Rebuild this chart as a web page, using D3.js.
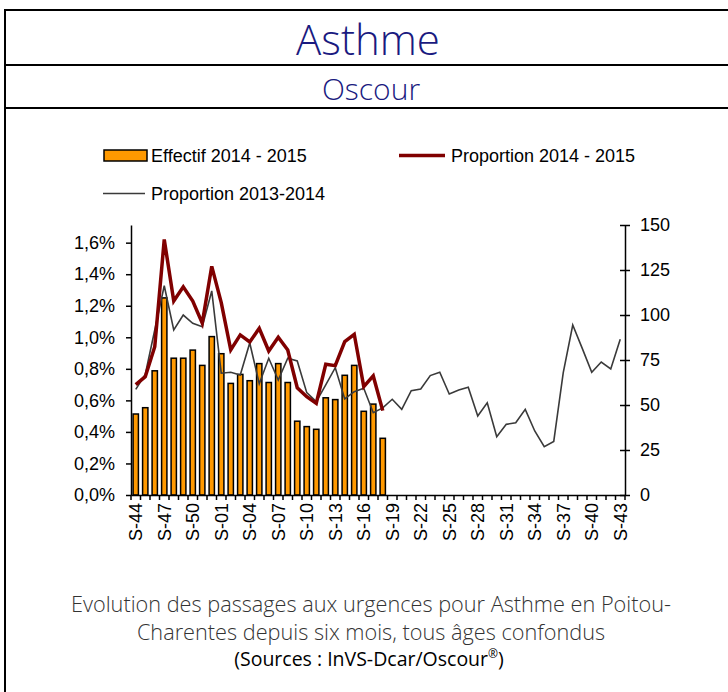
<!DOCTYPE html>
<html lang="fr">
<head>
    <meta charset="UTF-8">
    <title>Asthme - Oscour</title>
    <script src="https://cdnjs.cloudflare.com/ajax/libs/d3/7.8.5/d3.min.js"></script>
    <style>
        body {
            margin: 0;
            background-color: white;
        }

        .title {
            font-family: "Open Sans", sans-serif;
            font-weight: 300;
            fill: #1a1a80;
        }

        .caption {
            font-family: "Open Sans", sans-serif;
            font-weight: 300;
            fill: #333;
        }

        .chart-text {
            font-family: "Liberation Sans", Arial, sans-serif;
            font-size: 18px;
            fill: #000;
        }

        .axis path, .axis line {
            stroke: #000;
            stroke-width: 1.5;
        }
    </style>
</head>
<body>
<div id="chart"></div>
<script>
    const weeks = ['S-44', 'S-45', 'S-46', 'S-47', 'S-48', 'S-49', 'S-50', 'S-51', 'S-52',
        'S-01', 'S-02', 'S-03', 'S-04', 'S-05', 'S-06', 'S-07', 'S-08', 'S-09', 'S-10',
        'S-11', 'S-12', 'S-13', 'S-14', 'S-15', 'S-16', 'S-17', 'S-18', 'S-19', 'S-20',
        'S-21', 'S-22', 'S-23', 'S-24', 'S-25', 'S-26', 'S-27', 'S-28', 'S-29', 'S-30',
        'S-31', 'S-32', 'S-33', 'S-34', 'S-35', 'S-36', 'S-37', 'S-38', 'S-39', 'S-40',
        'S-41', 'S-42', 'S-43'];

    // nombre de passages 2014-2015 (axe droit)
    const effectif1415 = [45, 48.5, 69, 109.5, 76, 76, 80.5, 72, 88, 78.5, 62, 67, 63.5,
        73, 62.5, 73, 62.5, 41, 38, 36.5, 54, 53, 66.5, 72, 46.5, 50.5, 31.5];

    // proportions en % (axe gauche)
    const prop1415 = [0.70, 0.75, 0.94, 1.62, 1.23, 1.32, 1.23, 1.09, 1.45, 1.22, 0.92,
        1.015, 0.97, 1.057, 0.913, 1.0, 0.919, 0.68, 0.623, 0.581, 0.829, 0.82, 0.972,
        1.019, 0.687, 0.755, 0.535];

    const prop1314 = [0.67, 0.765, 1.046, 1.327, 1.046, 1.141, 1.089, 1.067, 1.294, 0.772,
        0.778, 0.761, 0.964, 0.706, 0.867, 0.729, 0.867, 0.85, 0.649, 0.592, 0.698, 0.807,
        0.609, 0.655, 0.677, 0.522, 0.552, 0.607, 0.543, 0.661, 0.672, 0.757, 0.778, 0.64,
        0.666, 0.683, 0.501, 0.585, 0.37, 0.448, 0.458, 0.543, 0.406, 0.306, 0.34, 0.776,
        1.078, 0.93, 0.778, 0.843, 0.799, 0.987];

    const leftTicks = [0, 0.2, 0.4, 0.6, 0.8, 1.0, 1.2, 1.4, 1.6];
    const rightTicks = [0, 25, 50, 75, 100, 125, 150];

    const width = 728;
    const height = 692;
    const plot = {left: 131, right: 625, top: 225, bottom: 495};

    const svg = d3.select('#chart')
        .append('svg')
        .attr('width', width)
        .attr('height', height);

    // cadre
    svg.append('rect')
        .attr('x', 5).attr('y', 10)
        .attr('width', width + 10).attr('height', height + 10)
        .attr('fill', 'none').attr('stroke', '#000').attr('stroke-width', 2);
    svg.append('line').attr('x1', 5).attr('x2', width).attr('y1', 65).attr('y2', 65)
        .attr('stroke', '#000').attr('stroke-width', 2);
    svg.append('line').attr('x1', 5).attr('x2', width).attr('y1', 108).attr('y2', 108)
        .attr('stroke', '#000').attr('stroke-width', 2);

    svg.append('text').attr('class', 'title')
        .attr('x', 368).attr('y', 55)
        .attr('text-anchor', 'middle')
        .style('font-size', '42px')
        .text('Asthme');
    svg.append('text').attr('class', 'title')
        .attr('x', 371).attr('y', 100)
        .attr('text-anchor', 'middle')
        .style('font-size', '30px')
        .text('Oscour');

    const x = d3.scaleBand()
        .domain(weeks)
        .range([plot.left, plot.right]);

    const yLeft = d3.scaleLinear()
        .domain([0, 1.712])
        .range([plot.bottom, plot.top]);

    const yRight = d3.scaleLinear()
        .domain([0, 150])
        .range([plot.bottom, plot.top]);

    const cx = i => x(weeks[i]) + x.bandwidth() / 2;

    // barres
    const barW = x.bandwidth() * 0.56;
    svg.append('g').selectAll('rect')
        .data(effectif1415)
        .enter()
        .append('rect')
        .attr('x', (d, i) => cx(i) - barW / 2)
        .attr('y', d => yRight(d))
        .attr('width', barW)
        .attr('height', d => plot.bottom - yRight(d))
        .attr('fill', '#ff9900')
        .attr('stroke', '#000')
        .attr('stroke-width', 1.5);

    const line = d3.line()
        .x((d, i) => cx(i))
        .y(d => yLeft(d));

    svg.append('path')
        .datum(prop1314)
        .attr('d', line)
        .attr('fill', 'none')
        .attr('stroke', '#3a3a3a')
        .attr('stroke-width', 1.6);

    svg.append('path')
        .datum(prop1415)
        .attr('d', line)
        .attr('fill', 'none')
        .attr('stroke', '#800000')
        .attr('stroke-width', 3.5);

    // axes
    const leftAxis = d3.axisLeft(yLeft)
        .tickValues(leftTicks)
        .tickSize(5)
        .tickPadding(11)
        .tickSizeOuter(0)
        .tickFormat(d => d3.format('.1f')(d).replace('.', ',') + '%');
    svg.append('g').attr('class', 'axis chart-text')
        .attr('transform', `translate(${plot.left},0)`)
        .call(leftAxis);

    const rightAxis = d3.axisRight(yRight)
        .tickValues(rightTicks)
        .tickSize(5)
        .tickSizeOuter(0);
    const gr = svg.append('g').attr('class', 'axis chart-text')
        .attr('transform', `translate(${plot.right},0)`)
        .call(rightAxis);
    gr.selectAll('.tick line').attr('x1', -5);
    gr.selectAll('.tick text').attr('x', 15);

    const xAxis = d3.axisBottom(x)
        .tickSize(0)
        .tickSizeOuter(0)
        .tickFormat((d, i) => i % 3 === 0 ? d : '');
    const gx = svg.append('g').attr('class', 'axis chart-text')
        .attr('transform', `translate(0,${plot.bottom})`)
        .call(xAxis);
    gx.selectAll('.tick text')
        .attr('transform', 'rotate(-90)')
        .attr('text-anchor', 'end')
        .attr('x', -8)
        .attr('y', 0)
        .attr('dy', '0.35em');
    gx.selectAll('.bound')
        .data(d3.range(weeks.length + 1))
        .enter()
        .append('line')
        .attr('class', 'bound')
        .attr('x1', i => plot.left + i * x.step())
        .attr('x2', i => plot.left + i * x.step())
        .attr('y1', 0)
        .attr('y2', 5)
        .attr('stroke', '#000')
        .attr('stroke-width', 1.2);
    svg.selectAll('.axis text').style('font-family', '"Liberation Sans", Arial, sans-serif')
        .style('font-size', '18px').attr('fill', '#000');

    // légende
    const legend = svg.append('g').attr('class', 'chart-text');
    legend.append('rect')
        .attr('x', 104).attr('y', 150).attr('width', 43).attr('height', 11)
        .attr('fill', '#ff9900').attr('stroke', '#000').attr('stroke-width', 1.5);
    legend.append('text').attr('x', 151).attr('y', 162).text('Effectif 2014 - 2015');
    legend.append('line')
        .attr('x1', 399).attr('x2', 445).attr('y1', 155.5).attr('y2', 155.5)
        .attr('stroke', '#800000').attr('stroke-width', 3.5);
    legend.append('text').attr('x', 451).attr('y', 162).text('Proportion 2014 - 2015');
    legend.append('line')
        .attr('x1', 103).attr('x2', 145).attr('y1', 193.5).attr('y2', 193.5)
        .attr('stroke', '#3a3a3a').attr('stroke-width', 1.6);
    legend.append('text').attr('x', 151).attr('y', 200).text('Proportion 2013-2014');

    // légende du graphique
    const caption = svg.append('g').attr('class', 'caption');
    caption.append('text')
        .attr('x', 371).attr('y', 612)
        .attr('text-anchor', 'middle')
        .style('font-size', '21.7px')
        .text('Evolution des passages aux urgences pour Asthme en Poitou-');
    caption.append('text')
        .attr('x', 371).attr('y', 640)
        .attr('text-anchor', 'middle')
        .style('font-size', '21.7px')
        .text('Charentes depuis six mois, tous âges confondus');
    const src = caption.append('text')
        .attr('x', 369).attr('y', 666)
        .attr('text-anchor', 'middle')
        .style('font-size', '19.5px')
        .style('font-weight', 400)
        .attr('fill', '#000');
    src.append('tspan').text('(Sources : InVS-Dcar/Oscour');
    src.append('tspan').attr('dy', -8).style('font-size', '12px').text('®');
    src.append('tspan').attr('dy', 8).text(')');
</script>
</body>
</html>
